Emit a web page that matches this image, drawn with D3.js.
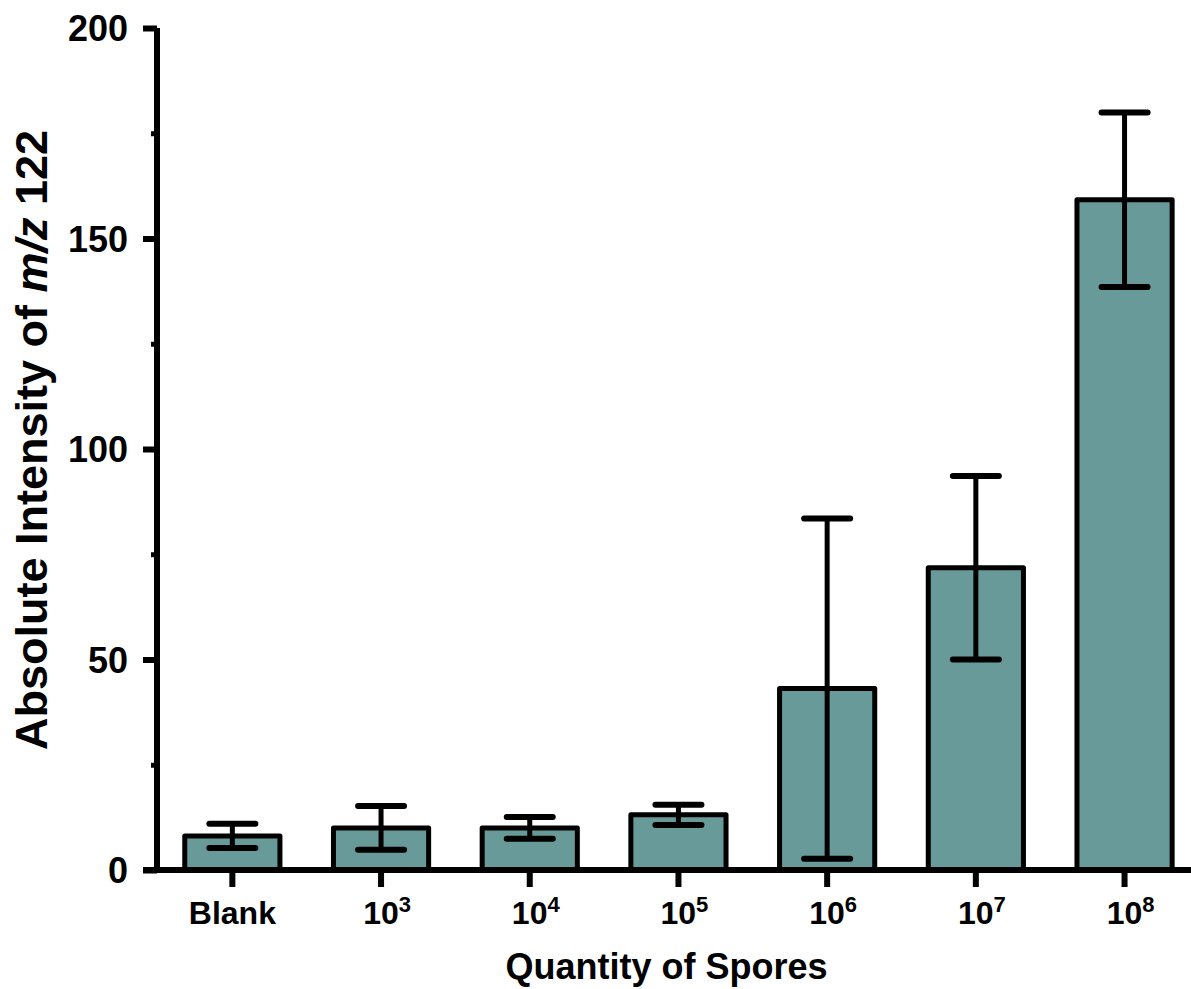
<!DOCTYPE html>
<html>
<head>
<meta charset="utf-8">
<script src="https://cdn.jsdelivr.net/npm/d3@7"></script>
<style>
  html, body { margin: 0; padding: 0; background: #fff; }
  svg { display: block; }
  text { font-family: "Liberation Sans", Arial, sans-serif; font-weight: bold; fill: #000; }
</style>
</head>
<body>
<svg id="chart" width="1191" height="989"></svg>
<script>
// ---- data ----
const categories = ["Blank", "10^3", "10^4", "10^5", "10^6", "10^7", "10^8"];
const means      = [8.1, 10.0, 10.0, 13.1, 43.1, 71.8, 159.2];
const sds        = [2.9, 5.2, 2.6, 2.4, 40.4, 21.8, 20.7];
const yMajorTicks = [0, 50, 100, 150, 200];
const yMinorTicks = [25, 75, 125, 175];
const xTitle = "Quantity of Spores";
const yTitleParts = ["Absolute Intensity of ", "m/z", " 122"];

// ---- layout ----
const svg = d3.select("#chart");
const W = 1191, H = 989;
const plotLeft = 157, plotBottom = 870, plotTop = 28;
const step = 148.7;

const x = d3.scaleBand()
  .domain(categories)
  .range([plotLeft + 1, plotLeft + 1 + step * categories.length])
  .paddingInner(0.36)
  .paddingOuter(0.18);

const y = d3.scaleLinear().domain([0, 200]).range([plotBottom, plotTop]);

const fillColor = "#699a9a";

// bars
svg.append("g").selectAll("rect")
  .data(categories)
  .join("rect")
  .attr("x", d => x(d))
  .attr("width", x.bandwidth())
  .attr("y", (d, i) => y(means[i]))
  .attr("height", (d, i) => y(0) - y(means[i]))
  .attr("fill", fillColor)
  .attr("stroke", "#000")
  .attr("stroke-width", 5)
  .attr("stroke-linejoin", "round");

// error bars
const capHalf = 23;
const eb = svg.append("g").attr("stroke", "#000").attr("stroke-linecap", "round");
categories.forEach((c, i) => {
  const cx = x(c) + x.bandwidth() / 2;
  const lo = means[i] - sds[i], hi = means[i] + sds[i];
  eb.append("line").attr("x1", cx).attr("x2", cx)
    .attr("y1", y(lo)).attr("y2", y(hi)).attr("stroke-width", 5).attr("stroke-linecap", "butt");
  [lo, hi].forEach(v => {
    eb.append("line").attr("x1", cx - capHalf).attr("x2", cx + capHalf)
      .attr("y1", y(v)).attr("y2", y(v)).attr("stroke-width", 6);
  });
});

// y axis (major)
const yAxis = d3.axisLeft(y).tickValues(yMajorTicks).tickSize(14).tickPadding(15).tickFormat(d3.format("d"));
const gy = svg.append("g").attr("transform", `translate(${plotLeft},0)`).call(yAxis);
gy.select(".domain").remove();
gy.selectAll(".tick line").attr("stroke", "#000").attr("stroke-width", 6);
gy.selectAll(".tick text").attr("font-size", 36).attr("dy", "0.36em").style("font-family", "'Liberation Sans', Arial, sans-serif").style("font-weight", "bold");

// y axis (minor)
const yMinor = d3.axisLeft(y).tickValues(yMinorTicks).tickSize(6).tickFormat("");
const gym = svg.append("g").attr("transform", `translate(${plotLeft},0)`).call(yMinor);
gym.select(".domain").remove();
gym.selectAll(".tick line").attr("stroke", "#000").attr("stroke-width", 5);

// y axis line
svg.append("line")
  .attr("x1", plotLeft).attr("x2", plotLeft)
  .attr("y1", y(200)).attr("y2", y(0) + 3)
  .attr("stroke", "#000").attr("stroke-width", 6);

// x axis
const xAxis = d3.axisBottom(x).tickSize(17).tickPadding(0).tickFormat("");
const gx = svg.append("g").attr("transform", `translate(0,${plotBottom})`).call(xAxis);
gx.select(".domain").remove();
gx.selectAll(".tick line").attr("stroke", "#000").attr("stroke-width", 6);

// x tick labels with superscripts
gx.selectAll(".tick").each(function(d) {
  const t = d3.select(this).append("text")
    .attr("y", 54)
    .attr("text-anchor", "middle")
    .attr("font-size", 32);
  const parts = d.split("^");
  if (parts.length === 2) {
    t.attr("dx", 6);
    t.append("tspan").text(parts[0]);
    t.append("tspan").attr("font-size", 22).attr("dy", -12).text(parts[1]);
  } else {
    t.text(d);
  }
});

// x axis line (extends left past y axis)
svg.append("line")
  .attr("x1", plotLeft - 14).attr("x2", W)
  .attr("y1", plotBottom).attr("y2", plotBottom)
  .attr("stroke", "#000").attr("stroke-width", 6);

// axis titles
svg.append("text")
  .attr("x", (x.range()[0] + x.range()[1]) / 2 - 12)
  .attr("y", 979)
  .attr("text-anchor", "middle")
  .attr("font-size", 36)
  .text(xTitle);

const yt = svg.append("text")
  .attr("transform", "translate(47,440) rotate(-90)")
  .attr("text-anchor", "middle")
  .attr("font-size", 45);
yt.append("tspan").text(yTitleParts[0]);
yt.append("tspan").attr("font-style", "italic").text(yTitleParts[1]);
yt.append("tspan").text(yTitleParts[2]);
</script>
</body>
</html>
